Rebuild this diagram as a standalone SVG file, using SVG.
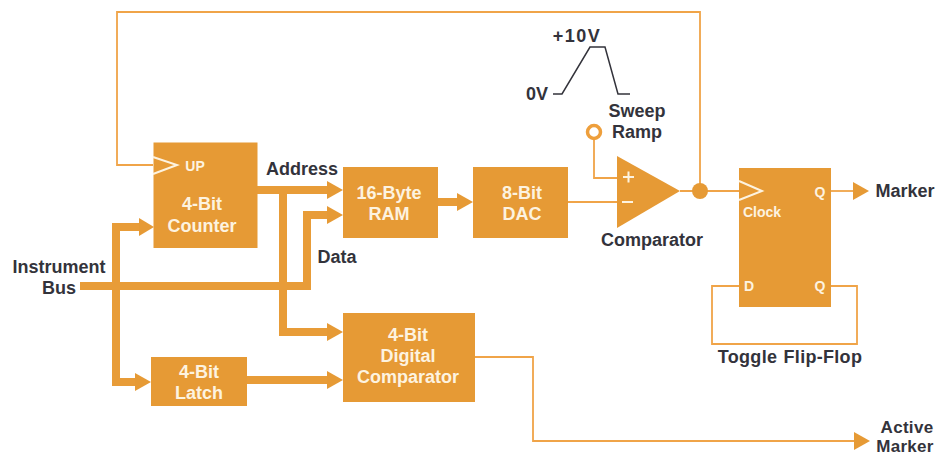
<svg xmlns="http://www.w3.org/2000/svg" width="937" height="456" viewBox="0 0 937 456">
<style>
text{font-family:"Liberation Sans",Arial,sans-serif;font-weight:bold;font-size:18px;fill:#33333b;text-anchor:middle}
.w{fill:#fdf3e0}
.s{font-size:14px}
.m{font-size:17px;letter-spacing:0.300px}
.b{fill:#e69a35}
.t{fill:none;stroke:#f0a448;stroke-width:1.800}
.k{fill:none;stroke:#e89c38;stroke-width:8}
.a{fill:#e69a35}
.o{fill:none;stroke:#fdf3e0;stroke-width:2}
</style>
<rect width="937" height="456" fill="#ffffff"/>
<g id="connectors">
<path class="t" d="M153 165H117V12H700V191"/>
<path class="t" d="M594 138V178H617"/>
<path class="t" d="M568 202H617"/>
<path class="t" d="M680 191H739"/>
<path class="t" d="M831 191H853"/>
<path class="a" d="M853 182L869 191L853 200Z"/>
<path class="t" d="M739 286H712V344H857V286H831"/>
<path class="t" d="M475 357H533V441H854"/>
<path class="a" d="M854 432L870 441L854 450Z"/>
<path class="k" d="M257 190H328"/>
<path class="a" d="M327 181L343 190L327 199Z"/>
<path class="k" d="M283 190V332H328"/>
<path class="a" d="M327 323L343 332L327 341Z"/>
<path class="k" d="M80 286H307V215H328"/>
<path class="a" d="M327 206L343 215L327 224Z"/>
<path class="k" d="M140 227H116V382H136"/>
<path class="a" d="M139 218L154 227L139 236Z"/>
<path class="a" d="M135 373L151 382L135 391Z"/>
<path class="k" d="M247 380H328"/>
<path class="a" d="M327 371L343 380L327 389Z"/>
<path class="k" d="M438 202H458"/>
<path class="a" d="M457 193L473 202L457 211Z"/>
<circle cx="700" cy="191" r="8" class="a"/>
</g>
<g id="counter">
<rect class="b" x="153.500" y="142.500" width="104" height="105.500"/>
<path class="o" d="M153 157L177 165L153 174"/>
<text class="w s" x="195" y="171">UP</text>
<text class="w" x="202" y="210">4-Bit</text>
<text class="w" x="202" y="232">Counter</text>
</g>
<g id="ram">
<rect class="b" x="343" y="167" width="95" height="71"/>
<text class="w" x="389" y="199">16-Byte</text>
<text class="w" x="389" y="220">RAM</text>
</g>
<g id="dac">
<rect class="b" x="473" y="167" width="95" height="71"/>
<text class="w" x="522" y="199">8-Bit</text>
<text class="w" x="522" y="220">DAC</text>
</g>
<g id="latch">
<rect class="b" x="151" y="357" width="96" height="49"/>
<text class="w" x="199" y="378">4-Bit</text>
<text class="w" x="199" y="399">Latch</text>
</g>
<g id="digital-comparator">
<rect class="b" x="343" y="313" width="132" height="89"/>
<text class="w" x="408" y="341">4-Bit</text>
<text class="w" x="408" y="362">Digital</text>
<text class="w" x="408" y="383">Comparator</text>
</g>
<g id="comparator">
<path class="b" d="M617 156L680 191L617 228Z"/>
<path d="M623 177H634M628.500 171.500V182.500M622 202H633" fill="none" stroke="#fdf3e0" stroke-width="2"/>
<text x="652" y="246">Comparator</text>
</g>
<g id="flip-flop">
<rect class="b" x="739" y="168" width="92" height="139"/>
<path class="o" d="M739 181L762 191L739 200"/>
<text class="w s" x="762" y="217">Clock</text>
<text class="w s" x="820" y="197">Q</text>
<text class="w s" x="749" y="291">D</text>
<text class="w s" x="820" y="291">Q</text>
<text x="790" y="363" letter-spacing="0.300" word-spacing="1">Toggle Flip-Flop</text>
</g>
<g id="sweep-ramp">
<circle cx="594" cy="132" r="6.500" fill="#fff" stroke="#ee9f3c" stroke-width="3.500"/>
<path d="M553 94H562L590 47H605L618 94H630" fill="none" stroke="#33333b" stroke-width="1.500"/>
<text x="577" y="42" letter-spacing="1.500">+10V</text>
<text x="537" y="100">0V</text>
<text x="637" y="117">Sweep</text>
<text x="637" y="138">Ramp</text>
</g>
<g id="labels">
<text x="59" y="273">Instrument</text>
<text x="59" y="294">Bus</text>
<text x="302" y="175">Address</text>
<text x="337" y="263">Data</text>
<text x="905" y="197">Marker</text>
<text class="m" x="907" y="433">Active</text>
<text class="m" x="905" y="452">Marker</text>
</g>
</svg>
